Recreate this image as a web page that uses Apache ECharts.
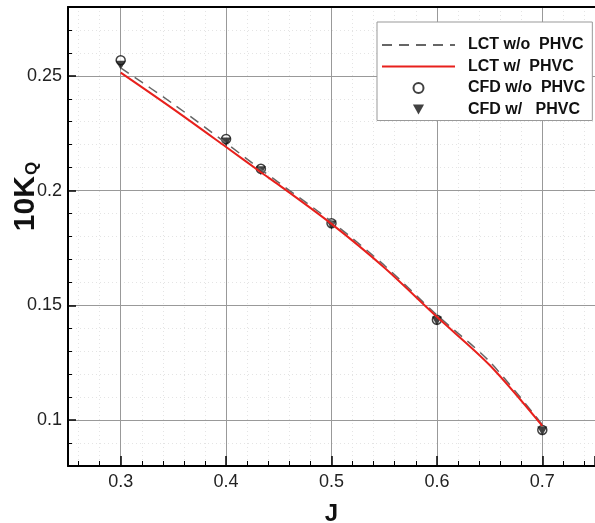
<!DOCTYPE html>
<html>
<head>
<meta charset="utf-8">
<script src="https://cdn.jsdelivr.net/npm/echarts@6/dist/echarts.min.js"></script>
<style>
    html, body { margin: 0; padding: 0; background: #fff; }
    #kq { width: 595px; height: 523px; }
</style>
</head>
<body>
<div id="kq"></div>
<script>
// J values
var jLct = [0.3, 0.35, 0.4, 0.433, 0.45, 0.5, 0.55, 0.6, 0.65, 0.7];
var jCfd = [0.3, 0.4, 0.433, 0.5, 0.6, 0.7];
// 10KQ
var lctWo = [0.2535, 0.2377, 0.2207, 0.2092, 0.2035, 0.1865, 0.1675, 0.1458, 0.1255, 0.098];
var lctW  = [0.2514, 0.2355, 0.219, 0.208, 0.2025, 0.1855, 0.1665, 0.145, 0.124, 0.0975];
var cfdWo = [0.2568, 0.2225, 0.2095, 0.1858, 0.1437, 0.0957];
var cfdW  = [0.2546, 0.2212, 0.2087, 0.185, 0.1432, 0.0952];
var names = ['LCT w/o  PHVC', 'LCT w/  PHVC', 'CFD w/o  PHVC', 'CFD w/   PHVC'];

function pairs(xs, ys) {
    return xs.map(function (x, i) { return [x, ys[i]]; });
}

(function(){
    var chart = echarts.init(document.getElementById('kq'));
    var font = '"Liberation Sans", Arial, sans-serif';
    var triDown = 'path://M0,0L10,0L5,9Z';

    var option = {
        animation: false,
        textStyle: { fontFamily: font },
        grid: {
            left: 68, right: 0, top: 7, bottom: 57,
            outerBoundsMode: 'none'
        },
        legend: {
            orient: 'vertical',
            left: 377, top: 22,
            padding: [15, 7, 3, 4],
            itemGap: 5.5,
            itemWidth: 73,
            itemHeight: 10,
            backgroundColor: '#fff',
            borderColor: '#999',
            borderWidth: 1,
            textStyle: { fontSize: 16, fontWeight: 'bold', color: '#111', padding: [0, 0, 0, 8] },
            // no dot on the line icons
            data: [
                { name: names[0], itemStyle: { opacity: 0 } },
                { name: names[1], itemStyle: { opacity: 0 } },
                names[2],
                names[3]
            ]
        },
        xAxis: [{
            type: 'value',
            min: 0.25, max: 0.75,
            splitNumber: 5,
            name: 'J',
            nameLocation: 'middle',
            nameGap: 36,
            nameMoveOverlap: false,
            nameTextStyle: { fontSize: 24, fontWeight: 'bold', color: '#111' },
            axisLine: { lineStyle: { color: '#000', width: 2 } },
            axisTick: { inside: true, length: 10, lineStyle: { color: '#000', width: 1.5 } },
            minorTick: { show: true, splitNumber: 5, length: 5, lineStyle: { color: '#000' } },
            axisLabel: { fontSize: 18, color: '#222', margin: 7, showMinLabel: false, showMaxLabel: false },
            splitLine: { show: true, lineStyle: { color: '#999', width: 1 } },
            minorSplitLine: { show: true, lineStyle: { color: '#e4e4e4', type: [1, 3] } }
        }, {
            // upper frame line
            type: 'value',
            position: 'top',
            min: 0.25, max: 0.75,
            axisLine: { show: true, lineStyle: { color: '#000', width: 2 } },
            axisTick: { show: false },
            axisLabel: { show: false },
            splitLine: { show: false }
        }],
        yAxis: {
            type: 'value',
            min: 0.08, max: 0.28,
            splitNumber: 4,
            name: '{a|10K}{b|Q}',
            nameLocation: 'middle',
            nameRotate: 90,
            nameGap: 27,
            nameMoveOverlap: false,
            nameTextStyle: {
                padding: [0, 0, 0, 80],
                rich: {
                    a: { fontSize: 30, fontWeight: 'bold', color: '#111', fontFamily: font },
                    b: { fontSize: 17, fontWeight: 'bold', color: '#111', fontFamily: font,
                         verticalAlign: 'bottom', padding: [13, 0, 0, 1] }
                }
            },
            axisLine: { lineStyle: { color: '#000', width: 2 } },
            axisTick: { inside: true, length: 8, lineStyle: { color: '#000', width: 1.5 } },
            minorTick: { show: true, splitNumber: 5, length: 4, lineStyle: { color: '#000' } },
            axisLabel: { fontSize: 18, color: '#222', margin: 6, showMinLabel: false, showMaxLabel: false },
            splitLine: { show: true, lineStyle: { color: '#999', width: 1 } },
            minorSplitLine: { show: true, lineStyle: { color: '#e4e4e4', type: [1, 3] } }
        },
        series: [
            {
                name: names[0],
                type: 'line',
                smooth: 0.3,
                symbol: 'none',
                lineStyle: { color: '#666', width: 1.5, type: [10, 7] },
                itemStyle: { color: '#666', opacity: 0 },
                data: pairs(jLct, lctWo)
            },
            {
                name: names[1],
                type: 'line',
                smooth: 0.3,
                symbol: 'none',
                lineStyle: { color: '#e8201c', width: 2 },
                itemStyle: { color: '#e8201c', opacity: 0 },
                data: pairs(jLct, lctW)
            },
            {
                name: names[2],
                type: 'scatter',
                symbol: 'circle',
                symbolSize: 9,
                itemStyle: { color: '#fff', borderColor: '#111', borderWidth: 1.5 },
                data: pairs(jCfd, cfdWo)
            },
            {
                name: names[3],
                type: 'scatter',
                symbol: triDown,
                symbolSize: [10, 9],
                itemStyle: { color: '#111' },
                data: pairs(jCfd, cfdW)
            }
        ]
    };

    chart.setOption(option);
})();
</script>
</body>
</html>
